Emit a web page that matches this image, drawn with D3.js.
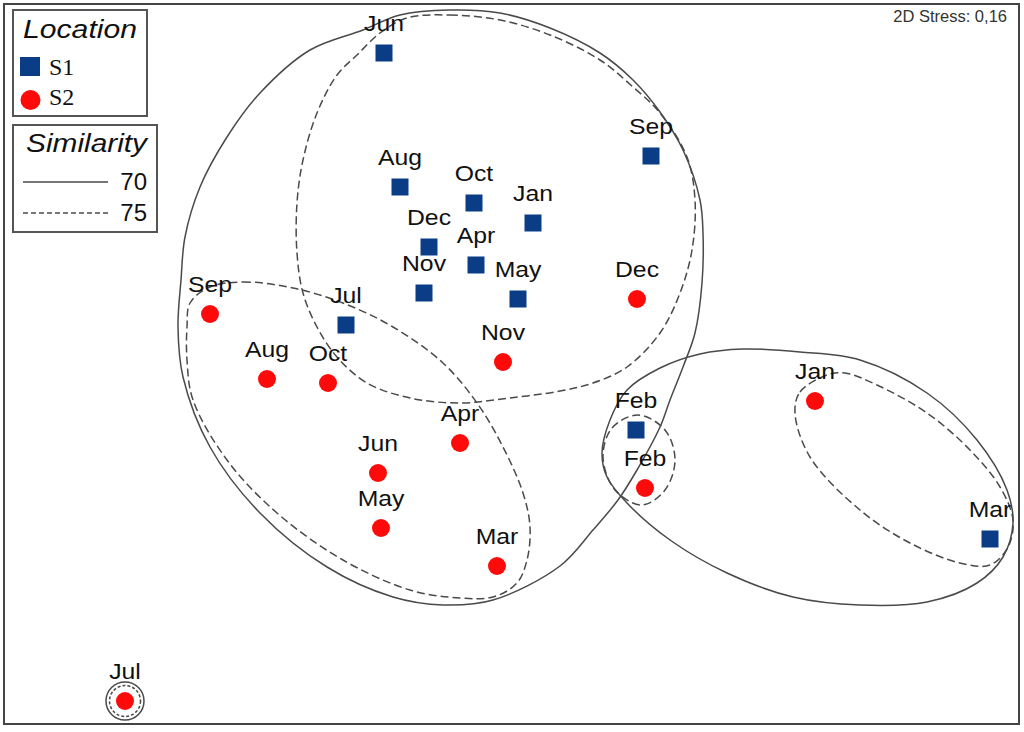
<!DOCTYPE html>
<html lang="en">
<head>
<meta charset="utf-8">
<style>
body { margin: 0; background: #fff; }
svg { display: block; font-family: "Liberation Sans", Arial, sans-serif; }
.label { font-size: 22.5px; fill: #111; text-anchor: middle; }
.contour { fill: none; stroke: #4a4a4a; stroke-width: 1.5; }
.dashed { stroke-dasharray: 8,4; }
</style>
<script src="https://d3js.org/d3.v7.min.js"></script>
</head>
<body>
<svg width="1024" height="732"></svg>
<script>

// nMDS ordination (arbitrary MDS units)
var s1Months = ["Jun","Sep","Aug","Oct","Jan","Dec","Apr","Nov","May","Jul","Feb","Mar"];
var s1X = [-1.28, 1.39, -1.12, -0.38, 0.21, -0.83, -0.36, -0.88, 0.06, -1.66, 1.24, 4.78];
var s1Y = [ 3.13, 2.10,  1.79,  1.63, 1.43,  1.19,  1.01,  0.73, 0.67,  0.41, -0.64, -1.73];

var s2Months = ["Jan","Feb","Mar","Apr","May","Jun","Jul","Aug","Sep","Oct","Nov","Dec"];
var s2X = [ 3.03,  1.33, -0.15, -0.52, -1.31, -1.34, -3.87, -2.45, -3.02, -1.84, -0.09, 1.25];
var s2Y = [-0.35, -1.22, -2.00, -0.77, -1.62, -1.07, -3.35, -0.13,  0.52, -0.17,  0.04, 0.67];

// similarity contours (outline vertices in MDS units)
var sim70Left = [[-1.12,3.51],[-0.62,3.56],[-0.12,3.53],[0.38,3.38],[0.88,3.13],[1.21,2.86],[1.48,2.54],
  [1.71,2.16],[1.88,1.66],[1.91,1.33],[1.90,0.83],[1.83,0.33],[1.71,-0.01],[1.58,-0.34],[1.48,-0.61],
  [1.25,-1.04],[1.06,-1.34],[0.81,-1.64],[0.48,-2.00],[-0.19,-2.34],[-0.69,-2.39],[-1.19,-2.31],
  [-1.85,-2.01],[-2.52,-1.47],[-3.02,-0.81],[-3.29,-0.11],[-3.34,0.39],[-3.31,0.86],[-3.27,1.29],
  [-3.12,1.79],[-2.85,2.29],[-2.52,2.73],[-2.02,3.16],[-1.49,3.36]];
var sim70Right = [[0.90,-0.87],[0.98,-0.54],[1.15,-0.24],[1.48,-0.02],[1.88,0.12],[2.31,0.17],[2.88,0.14],
  [3.48,0.06],[4.15,-0.27],[4.65,-0.74],[4.95,-1.24],[5.01,-1.57],[4.91,-1.91],[4.65,-2.17],[4.15,-2.36],
  [3.48,-2.39],[2.81,-2.31],[2.15,-2.07],[1.58,-1.74],[1.15,-1.37],[0.95,-1.11]];
var sim75Upper = [[-1.05,3.48],[-0.62,3.51],[-0.12,3.46],[0.38,3.31],[0.88,3.06],[1.21,2.79],[1.48,2.53],
  [1.75,2.09],[1.83,1.66],[1.80,1.16],[1.68,0.73],[1.48,0.33],[1.15,-0.01],[0.81,-0.17],[0.48,-0.25],
  [-0.02,-0.32],[-0.52,-0.37],[-1.02,-0.32],[-1.45,-0.17],[-1.75,0.09],[-1.95,0.39],[-2.09,0.73],
  [-2.15,1.13],[-2.15,1.63],[-2.09,2.06],[-1.95,2.53],[-1.75,2.91],[-1.55,3.11],[-1.32,3.33]];
var sim75Lower = [[-3.02,0.79],[-2.69,0.84],[-2.19,0.78],[-1.69,0.63],[-1.19,0.39],[-0.69,0.03],[-0.35,-0.37],
  [-0.09,-0.81],[0.11,-1.27],[0.18,-1.61],[0.15,-1.94],[0.05,-2.17],[-0.19,-2.31],[-0.52,-2.32],
  [-1.02,-2.24],[-1.69,-1.94],[-2.35,-1.47],[-2.85,-0.94],[-3.19,-0.34],[-3.25,0.06],[-3.25,0.39],[-3.22,0.63]];
var sim75JanMar = [[2.83,-0.47],[2.88,-0.26],[3.15,-0.09],[3.33,-0.07],[3.65,-0.19],[4.15,-0.47],[4.58,-0.84],
  [4.88,-1.21],[5.01,-1.54],[4.96,-1.81],[4.78,-1.99],[4.48,-1.97],[3.98,-1.77],[3.48,-1.44],[2.98,-0.91]];
var sim75Feb = [[0.91,-0.91],[1.00,-0.62],[1.26,-0.49],[1.53,-0.64],[1.63,-0.94],[1.53,-1.24],[1.30,-1.39],[1.03,-1.24]];
// the lone S2 July sample sits in its own ring at both levels
var julRingRadius = [0.19, 0.155];

var stressText = "2D Stress: 0,16";
var simLevels = ["70", "75"];

var svg = d3.select("svg"),
    width = +svg.attr("width"),
    height = +svg.attr("height");

var x = d3.scaleLinear().domain([-5, 5]).range([12, 1012]);
var y = d3.scaleLinear().domain([-3.5, 3.5]).range([716, 16]);

// frame
svg.append("rect")
    .attr("x", 4).attr("y", 4)
    .attr("width", 1015).attr("height", 720)
    .attr("fill", "#fff").attr("stroke", "#444").attr("stroke-width", 2);

var line = d3.line()
    .x(function(d) { return x(d[0]); })
    .y(function(d) { return y(d[1]); })
    .curve(d3.curveCatmullRomClosed.alpha(0.5));

[sim70Left, sim70Right].forEach(function(c) {
  svg.append("path").attr("class", "contour").attr("d", line(c));
});
[sim75Upper, sim75Lower, sim75JanMar, sim75Feb].forEach(function(c) {
  svg.append("path").attr("class", "contour dashed").attr("d", line(c));
});

var julIdx = s2Months.indexOf("Jul");
svg.selectAll(".julring")
  .data(julRingRadius)
  .enter().append("circle")
    .attr("class", function(d, i) { return i ? "contour dashed" : "contour"; })
    .style("stroke-dasharray", function(d, i) { return i ? "3,2" : null; })
    .attr("cx", x(s2X[julIdx]))
    .attr("cy", y(s2Y[julIdx]))
    .attr("r", function(d) { return x(d) - x(0); });

var s1 = s1Months.map(function(m, i) { return {m: m, x: s1X[i], y: s1Y[i]}; });
var s2 = s2Months.map(function(m, i) { return {m: m, x: s2X[i], y: s2Y[i]}; });

svg.selectAll(".s1")
  .data(s1)
  .enter().append("rect")
    .attr("class", "s1")
    .attr("x", function(d) { return x(d.x) - 8.5; })
    .attr("y", function(d) { return y(d.y) - 8.5; })
    .attr("width", 17).attr("height", 17)
    .attr("fill", "#0b3d86");

svg.selectAll(".s2")
  .data(s2)
  .enter().append("circle")
    .attr("class", "s2")
    .attr("cx", function(d) { return x(d.x); })
    .attr("cy", function(d) { return y(d.y); })
    .attr("r", 9)
    .attr("fill", "#ff0a0a");

svg.selectAll(".label")
  .data(s1.concat(s2))
  .enter().append("text")
    .attr("class", "label")
    .attr("transform", function(d) { return "translate(" + x(d.x) + "," + (y(d.y) - 22) + ") scale(1.1,1)"; })
    .text(function(d) { return d.m; });

svg.append("text")
    .attr("x", 1007).attr("y", 22)
    .attr("text-anchor", "end")
    .attr("font-size", 16.5)
    .attr("fill", "#333")
    .text(stressText);

// legend: location
var leg = svg.append("g");
leg.append("rect").attr("x", 13).attr("y", 10).attr("width", 134).attr("height", 106)
    .attr("fill", "#fff").attr("stroke", "#555").attr("stroke-width", 2);
leg.append("text").attr("x", 23).attr("y", 38)
    .attr("font-size", 26).attr("font-style", "italic").attr("fill", "#111")
    .attr("textLength", 114).attr("lengthAdjust", "spacingAndGlyphs")
    .text("Location");
leg.append("rect").attr("x", 20).attr("y", 57).attr("width", 20).attr("height", 19).attr("fill", "#0b3d86");
leg.append("circle").attr("cx", 30.5).attr("cy", 100).attr("r", 10).attr("fill", "#ff0a0a");
leg.selectAll(".loc")
  .data(["S1", "S2"])
  .enter().append("text")
    .attr("x", 49)
    .attr("y", function(d, i) { return 75 + i * 30; })
    .attr("font-family", "'Liberation Serif', 'Times New Roman', serif")
    .attr("font-size", 24).attr("fill", "#111")
    .text(function(d) { return d; });

// legend: similarity
leg.append("rect").attr("x", 13).attr("y", 125).attr("width", 144).attr("height", 107)
    .attr("fill", "#fff").attr("stroke", "#555").attr("stroke-width", 2);
leg.append("text").attr("x", 26).attr("y", 152)
    .attr("font-size", 26).attr("font-style", "italic").attr("fill", "#111")
    .attr("textLength", 121).attr("lengthAdjust", "spacingAndGlyphs")
    .text("Similarity");
simLevels.forEach(function(s, i) {
  leg.append("line")
      .attr("x1", 23).attr("x2", 108)
      .attr("y1", 182 + i * 31).attr("y2", 182 + i * 31)
      .attr("class", i ? "contour dashed" : "contour")
      .style("stroke-dasharray", i ? "5,3" : null);
  leg.append("text")
      .attr("x", 147).attr("y", 190 + i * 31)
      .attr("text-anchor", "end")
      .attr("font-size", 24).attr("fill", "#111")
      .text(s);
});

</script>
</body>
</html>
